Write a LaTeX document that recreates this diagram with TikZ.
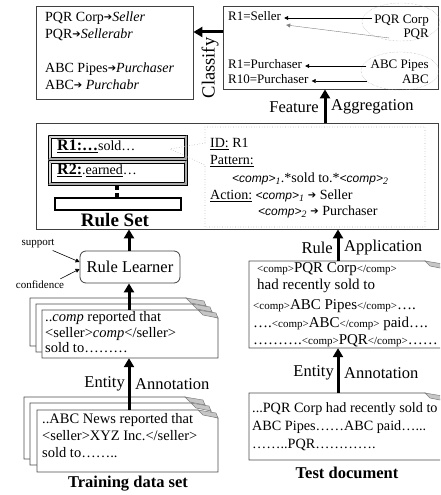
\documentclass[tikz,border=0pt]{standalone}
\usepackage{fontspec}
\setmainfont{Liberation Serif}
\newfontfamily\sansf{Liberation Sans}
\newfontfamily\arrowf{DejaVu Sans}
\usetikzlibrary{arrows.meta,fit,calc,shapes.geometric}

\newcommand\fsz[1]{\fontsize{#1}{#1}\selectfont}
\newcommand\rarr{{\arrowf\fsz{10}\raisebox{0.5pt}{➔}}}
\newcommand\cmp{{\sansf\itshape\fsz{12}<comp>}}
\newcommand\tg[1]{{\fsz{11}#1}}

\tikzset{
  big/.style={line width=3pt,-{Triangle[length=9pt,width=10pt]}},
  thinarr/.style={line width=0.6pt,-{Triangle[length=4pt,width=4pt]}},
  boxline/.style={draw=black!75,line width=0.8pt},
  pageline/.style={draw=black!70,line width=0.8pt},
  txt/.style={anchor=west,inner sep=0,text height=0.7em,text depth=0.22em},
  lbl/.style={inner sep=0,font=\fsz{16.5}},
  bold/.style={inner sep=0,font=\bfseries\fsz{16.5}},
}

\newcommand\mkpage[5]{%
  \filldraw[pageline,fill=white] (#2,#3) -- (#4-20,#3) -- (#4,#3+8) -- (#4,#5) -- (#2,#5) -- cycle;
  \filldraw[fill=gray!45,draw=gray,line width=0.5pt] (#4-20,#3) -- (#4-2,#3+3) -- (#4,#3+8) -- (#4-15,#3+5) -- cycle;
  \node[inner sep=0,fit={(#2,#3)(#4,#5)}] (#1) {};
}
\newcommand\mkbar[4]{%
  \fill[gray!30] (#1,#2) rectangle (#3,#4);
  \fill[gray!65] (#3,#2) -- (#3-3,#2+3) -- (#3-3,#4-3) -- (#1+3,#4-3) -- (#1,#4) -- (#3,#4) -- cycle;
  \fill[white] (#1+3,#2+3) rectangle (#3-3,#4-3);
  \draw[line width=1pt] (#1,#2) rectangle (#3,#4);
  \draw[line width=0.4pt] (#1+3,#2+3) rectangle (#3-3,#4-3);
  \draw[line width=0.3pt,gray] (#1,#2) -- (#1+3,#2+3) (#3,#2) -- (#3-3,#2+3) (#1,#4) -- (#1+3,#4-3) (#3,#4) -- (#3-3,#4-3);
}

\begin{document}
\begin{tikzpicture}[x=1pt,y=-1pt]
\useasboundingbox (0,0) rectangle (440,495);
\clip (0,0) rectangle (440,495);

% ---------- output box (top left)
\node[boxline,inner sep=0,fit={(36,6)(193,99)}] (out) {};
\node[txt,font=\fsz{14}] at (45,19) {PQR Corp\rarr\textit{Seller}};
\node[txt,font=\fsz{14}] at (45,36) {PQR\rarr\textit{Sellerabr}};
\node[txt,font=\fsz{14}] at (45,70) {ABC Pipes\rarr\textit{Purchaser}};
\node[txt,font=\fsz{14}] at (45,87) {ABC\rarr\ \textit{Purchabr}};

% ---------- feature box (top right)
\node[boxline,inner sep=0,fit={(223,6)(438,89)}] (fr) {};
\node[ellipse,draw=gray!70,densely dotted,minimum width=78,minimum height=38,inner sep=0] (e1) at (401,22) {};
\node[ellipse,draw=gray!70,densely dotted,minimum width=78,minimum height=38,inner sep=0] (e2) at (400,71) {};
\node[txt,font=\fsz{13}] (r1s) at (228,18) {R1=Seller};
\node[txt,font=\fsz{13}] (r1p) at (228,66) {R1=Purchaser};
\node[txt,font=\fsz{13}] (r10p) at (228,81) {R10=Purchaser};
\node[txt,anchor=east,font=\fsz{13}] (pqrc) at (429,21) {PQR Corp};
\node[txt,anchor=east,font=\fsz{13}] (pqr) at (429,35) {PQR};
\node[txt,anchor=east,font=\fsz{13}] (abcp) at (429,66) {ABC Pipes};
\node[txt,anchor=east,font=\fsz{13}] (abc) at (429,81) {ABC};
\draw[thinarr] ([xshift=-2]pqrc.west |- r1s.east) -- ([xshift=3]r1s.east);
\draw[thinarr,gray,line width=0.4pt] ([xshift=-14,yshift=-3]pqr.west) -- ([xshift=5,yshift=-7]r1s.east);
\draw[thinarr] ([xshift=-4]abcp.west) -- ([xshift=3]r1p.east);
\draw[thinarr] ([xshift=6]e2.west |- r10p.east) -- ([xshift=3]r10p.east);

% classify
\coordinate (clf) at (0,32);
\draw[big] (clf -| fr.west) -- (clf -| out.east);
\node[lbl,rotate=90,font=\fsz{18.5}] at (210,68) {Classify};

% feature aggregation
\coordinate (fa) at (325,0);
\node[lbl,anchor=east] at (319,107) {Feature};
\node[lbl,anchor=west] at (331,107) {Aggregation};

% ---------- rule set
\node[boxline,inner sep=0,fit={(36,123)(438,229)}] (rs) {};
\draw[big] (fa |- rs.north) -- (fa |- fr.south);
\mkbar{48}{135}{187}{160}
\mkbar{48}{160}{187}{185}
\node[txt,font=\fsz{14}] at (57,148) {\textbf{\fsz{16}\underline{R1:…}}sold…};
\node[txt,font=\fsz{14}] at (57,172) {\textbf{\fsz{16}\underline{R2:}}.\underline{earned}…};
\fill (115,186) rectangle (119,190);
\fill (115,193) rectangle (119,197);
\draw[line width=1.3pt] (55,198) rectangle (181,210);
\node[bold,font=\bfseries\fsz{19}] at (115,220) {Rule Set};

% callout
\draw[gray!60,dotted,line width=0.6pt] (205,143) -- (205,127) -- (425,127) -- (425,227) -- (205,227) -- (205,165) -- (170,149) -- cycle;
\node[txt,font=\fsz{14}] at (210,145) {\underline{ID:} R1};
\node[txt,font=\fsz{14}] at (210,162) {\underline{Pattern:}};
\node[txt,font=\fsz{14}] at (232,180) {\cmp$_{\mathit 1}$.*sold to.*\cmp$_{\mathit 2}$};
\node[txt,font=\fsz{14}] at (210,197) {\underline{Action:} \cmp$_{\mathit 1}$ \rarr\ Seller};
\node[txt,font=\fsz{14}] at (258,213) {\cmp$_{\mathit 2}$ \rarr\ Purchaser};

% ---------- rule learner
\node[draw=black!75,line width=0.8pt,rounded corners=6,minimum width=100,minimum height=32,font=\fsz{16.5}] (rl) at (130,267) {Rule Learner};
\node[inner sep=0,font=\fsz{11}] (sup) at (38,244) {support};
\node[inner sep=0,font=\fsz{11}] (conf) at (40,285) {confidence};
\draw[thinarr] ([xshift=-2,yshift=-2]sup.south east) -- ([yshift=5]rl.west);
\draw[thinarr] ([xshift=-4,yshift=2]conf.north east) -- ([yshift=-2]rl.west);

% ---------- training docs (upper)
\mkpage{ta3}{30}{298}{206}{346}
\mkpage{ta2}{36}{304}{212}{352}
\mkpage{ta1}{42}{310}{218}{358}
\node[txt,font=\fsz{14.5}] at (45,319) {..\textit{comp} reported that};
\node[txt,font=\fsz{14.5}] at (45,335) {<seller>\textit{comp}</seller>};
\node[txt,font=\fsz{14.5}] at (45,350) {sold to………};

% ---------- training docs (lower)
\mkpage{tb3}{24}{397}{205}{459}
\mkpage{tb2}{30}{403}{211}{465}
\mkpage{tb1}{37}{410}{218}{472}
\node[txt,font=\fsz{14.5}] at (42,421) {..ABC News reported that};
\node[txt,font=\fsz{14.5}] at (42,438) {<seller>XYZ Inc.</seller>};
\node[txt,font=\fsz{14.5}] at (42,455) {sold to……..};
\node[bold] at (128,484) {Training data set};

% left column arrows
\coordinate (lc) at (129,0);
\draw[big] (lc |- tb1.north) -- (lc |- ta1.south);
\draw[big] (lc |- ta1.north) -- (lc |- rl.south);
\draw[big] (lc |- rl.north) -- (lc |- rs.south);
\node[lbl,anchor=east] at (125,384) {Entity};
\node[lbl,anchor=west] at (135,384) {Annotation};

% ---------- test docs
\mkpage{te1}{249}{261}{445}{348}
\node[txt,font=\fsz{15}] at (257,270) {\tg{<comp>}PQR Corp\tg{</comp>}};
\node[txt,font=\fsz{15}] at (257,287) {had recently sold to};
\node[txt,font=\fsz{15}] at (253,307) {\tg{<comp>}ABC Pipes\tg{</comp>}….};
\node[txt,font=\fsz{15}] at (253,325) {….\tg{<comp>}ABC\tg{</comp>} paid….};
\node[txt,font=\fsz{15}] at (253,342) {……….\tg{<comp>}PQR\tg{</comp>}……};

\mkpage{te2}{249}{393}{445}{460}
\node[txt,font=\fsz{14.2}] at (252,410) {...PQR Corp had recently sold to};
\node[txt,font=\fsz{14.2}] at (252,428) {ABC Pipes……ABC paid…...};
\node[txt,font=\fsz{14.2}] at (252,446) {……..PQR………….};
\node[bold] at (347,473) {Test document};

% right column arrows
\coordinate (rc) at (338,0);
\draw[big] (rc |- te2.north) -- (rc |- te1.south);
\draw[big] (rc |- te1.north) -- (rc |- rs.south);
\node[lbl,anchor=east] at (333,248) {Rule};
\node[lbl,anchor=west] at (344,248) {Application};
\node[lbl,anchor=east] at (334,373) {Entity};
\node[lbl,anchor=west] at (344,373) {Annotation};
\end{tikzpicture}
\end{document}
